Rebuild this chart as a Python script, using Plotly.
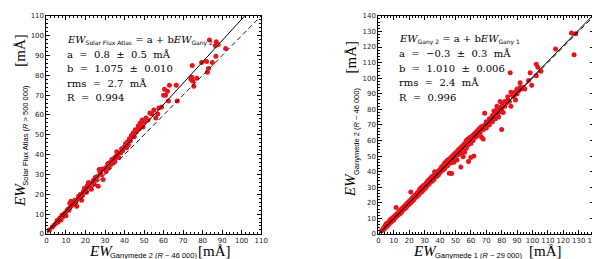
import plotly.graph_objects as go

# ---------------- data ----------------
left_x = [1.5,3,4,5,5.5,6,6.5,7,7.5,8,8.5,9,9.5,10,10.5,11,11.5,12,12,12.5,13,13.5,14,14.5,15,15.5,16,16.5,17,17.5,18,18.5,19,19.5,20,20.5,21,21.5,22,22.5,23,24,24.5,25,25.5,26,26.5,27,27.5,28,28.5,29,30,30.5,31,31.5,32,32.5,33,33.5,34,34.5,35,35.5,36,36.5,37,38,38.5,39,40,40.5,41,41.5,42,42.5,43,43.5,44,44.5,45,45.5,46,47,47.5,48,48.5,49,49.5,50,51,52,53,54,55,56,57,57.5,59,60,61,60.5,62,63,62.5,66.5,67,74,74.5,75,75.5,74.7,77,79.5,82,83,82.5,85,83.5,86.5,87,86.8,91.8,88]
left_y = [2.0,3.5,4.5,5.5,6.8,6,7.5,8.2,7,9.5,8.8,9.8,10.5,9.2,11.8,12.5,12,13.2,15.5,16.5,14.5,16,15.2,17,15.8,14,17.5,19,18.2,20,17,19.5,21.5,23,22,21,24.5,26,23.5,25.5,22.5,27,25,28.5,27.5,29,24,32.5,31,30,32.8,27.5,33,31.5,34,35.5,33.5,36,35,37.5,36,38,37,39,41.5,40.5,38.5,41,43,42,44,45.5,43.5,46.5,45,48,47,49.5,50,51,49,52.5,51.5,54.5,53,56,55,57.5,54,56.5,58.5,57.5,61,60.5,62.5,58.5,60.5,63.5,64,70,70,73,72,75,67,75,67,78,79,77,74.5,85,78.5,86.5,87,83.5,81.5,86.5,97.8,95,97,89.6,93.5,95.5]
left_a, left_b = 0.8, 1.075

right_pts = [(2,2),(3,2.5),(3.5,4),(4,3.5),(4.5,5.5),(5,4.5),(5,6.5),(5.5,5),(6,7),(6,5.5),(6.5,6),(7,8),(7,6.5),(7.5,9),(8,7.5),(8,9.5),(8.5,8),(9,10),(9,8.5),(9.5,9.5),(10,11),(10,9),(10.5,10),(11,12),(11,10.5),(11.5,17),(12,11.5),(12,13),(12.5,12),(13,14),(13,12.5),(13.5,13.5),(14,15),(14,13),(14.5,14.5),(15,16),(15,14),(15.5,15),(16,17),(16,15.5),(16.5,16.5),(17,18),(17,16),(17.5,17.5),(18,19),(18,17),(18.5,18),(19,20),(19,18.5),(19.5,19.5),(20,21),(20,19),(20.5,20.5),(21,27),(21,22),(21,20),(21.5,21.5),(22,23),(22,21),(22.5,22.5),(23,24),(23,22),(23.5,23),(24,25),(24,23.5),(24.5,24.5),(25,26),(25,24),(25.5,26.5),(26,27),(26,25),(26.5,28),(27,26.5),(27,29),(27.5,28),(28,30),(28,27),(28.5,29),(29,31),(29,28),(29.5,30),(30,31.5),(30,29),(30.5,30.5),(31,32.5),(31,30),(31.5,33),(32,31.5),(32,34),(32.5,33),(33,35),(33,32),(33.5,34),(34,36),(34,33.5),(34.5,35),(35,37),(35,34),(35.5,36),(36,37.5),(36,35),(36.5,40),(37,38),(37,36.5),(37.5,37.5),(38,39.5),(38,37),(38.5,38.5),(39,40.5),(39,38),(40,41),(40,39.5),(40.5,42),(41,40.5),(41,43),(41.5,42),(42,44),(42,41),(42.5,43),(43,45.5),(43,42),(43.5,44),(44,46.5),(44,43.5),(44.5,45),(45,47.5),(45,44),(45.5,46),(46,48),(46,39),(46.5,47),(47,49),(47,45.5),(47.5,38.8),(48,47),(48,50),(48.5,48),(49,46),(49,51),(49.5,49),(50,52),(50,48),(50.5,50.5),(51,53),(51,47.5),(52,51),(52,54),(52.5,52),(53,55),(53.5,43),(54,52),(54,56),(55,49.5),(55,57),(55.5,54),(56,58),(56,52.5),(57,55),(57,60),(58,57),(58,61),(58.5,46.5),(59,59),(59.5,62),(60,49),(60,58),(60.5,61),(61,63),(61.5,60),(62,64),(62,50),(63,62),(63,65),(64,66),(64,63),(65,67),(65,64),(66,68),(66,65),(67,62),(67,69),(68,61),(68,67),(69,70),(69,77.5),(70,68),(70,72),(71,71),(72,74),(72,70),(73,73),(74,76),(74,72),(75,75),(75,79),(76,77),(76,74),(77,80),(77,82),(78,78),(78,75),(79,81),(79,85),(80,80),(80,67),(80.5,83),(81,78),(82,85),(82,82),(83,84),(84,86),(84,88),(85,85),(85.5,103.5),(86,82),(86,91),(87,89),(88,88),(88.5,91),(89,86),(90,90),(90,93),(91,92),(92,94),(92,97),(93,93),(94,94),(95,93),(97.5,98.5),(98.5,103.5),(99.5,95.5),(102.5,109),(103.5,107),(102.5,101.5),(105.5,104.5),(115,118.7),(125.3,129),(128,128.5),(127,115)]
right_x = [p[0] for p in right_pts]
right_y = [p[1] for p in right_pts]
right_a, right_b = -0.3, 1.010

left_range = [0, 110]
right_range = [0, 140]
left_ticks = list(range(0, 111, 10))
right_ticks = list(range(0, 141, 10))

# ---------------- figure ----------------
RED = "#e8141c"
fig = go.Figure()

def add_panel(xs, ys, a, b, rng, xa, ya):
    fig.add_trace(go.Scatter(x=xs, y=ys, mode="markers", xaxis=xa, yaxis=ya,
                             marker=dict(color=RED, size=5, line=dict(width=0)),
                             showlegend=False, hoverinfo="skip"))
    # 1:1 dashed line
    fig.add_trace(go.Scatter(x=[rng[0], rng[1]], y=[rng[0], rng[1]], mode="lines",
                             xaxis=xa, yaxis=ya, line=dict(color="black", width=0.9, dash="5px,3px"),
                             showlegend=False, hoverinfo="skip"))
    # fit line
    x_end = (rng[1] - a) / b
    fig.add_trace(go.Scatter(x=[rng[0], x_end], y=[a + b * rng[0], rng[1]], mode="lines",
                             xaxis=xa, yaxis=ya, line=dict(color="black", width=1),
                             showlegend=False, hoverinfo="skip"))

add_panel(left_x, left_y, left_a, left_b, left_range, "x", "y")
add_panel(right_x, right_y, right_a, right_b, right_range, "x2", "y2")

ydom = [1 - 229 / 259, 1 - 4 / 259]
axis_common = dict(showline=True, linecolor="black", linewidth=1, mirror="allticks",
                   ticks="inside", ticklen=4, tickwidth=0.8, tickcolor="black",
                   showgrid=False, zeroline=False,
                   tickfont=dict(family="DejaVu Sans", size=7, color="#222"),
                   minor=dict(ticks="inside", ticklen=2, tickcolor="black", dtick=2, showgrid=False))

fig.update_layout(
    width=600, height=259, margin=dict(l=0, r=0, t=0, b=0),
    paper_bgcolor="white", plot_bgcolor="white",
    xaxis=dict(domain=[37 / 600, 255 / 600], range=left_range, tickvals=left_ticks, anchor="y", **axis_common),
    yaxis=dict(domain=ydom, range=left_range, tickvals=left_ticks, anchor="x", **axis_common),
    xaxis2=dict(domain=[374 / 600, 593 / 600], range=right_range, tickvals=right_ticks, anchor="y2", **axis_common),
    yaxis2=dict(domain=ydom, range=right_range, tickvals=right_ticks, anchor="x2", **axis_common),
)

SERIF = "DejaVu Serif"
SANS = "DejaVu Sans"
LSANS = "Liberation Sans"
LSERIF = "Liberation Serif"

def sub(t):
    return f"<sub><span style='font-family:{SANS};font-size:6px'>{t}</span></sub>"

ann = []
def txt(xp, yp, s, size=10, angle=0, xanchor="left", yanchor="middle", family=SERIF, pad=1):
    ann.append(dict(x=xp / 600, y=1 - yp / 259, xref="paper", yref="paper", text=s, showarrow=False,
                    xanchor=xanchor, yanchor=yanchor, textangle=angle, borderpad=pad,
                    font=dict(family=family, size=size, color="black")))

# left panel text block
lines_left = [
    "<i>EW</i>" + sub("Solar Flux Atlas") + " = a + b<i>EW</i>" + sub("Gany 2"),
    "a  =  0.8  ±  0.5  mÅ",
    "b  =  1.075  ±  0.010",
    "rms  =  2.7  mÅ",
    "R  =  0.994",
]
for i, s in enumerate(lines_left):
    txt(56, 29 + 14.8 * i, s)

lines_right = [
    "<i>EW</i>" + sub("Gany 2") + " = a + b<i>EW</i>" + sub("Gany 1"),
    "a  =  −0.3  ±  0.3  mÅ",
    "b  =  1.010  ±  0.006",
    "rms  =  2.4  mÅ",
    "R  =  0.996",
]
for i, s in enumerate(lines_right):
    txt(393, 28 + 15 * i, s)

# axis titles, built from pieces
def xtitle(ew_x, sub_x, unit_x, label):
    txt(ew_x, 246.5, "<i>EW</i>", size=15, xanchor="center", family=LSERIF, pad=0)
    txt(sub_x, 251, label, size=7.5, xanchor="left", family=LSANS, pad=0)
    txt(unit_x, 246.5, "[mÅ]", size=15, xanchor="center", family=LSERIF, pad=0)

def ytitle(ew_x, ew_y, sub_x, sub_bottom, unit_y, label):
    txt(ew_x, ew_y, "<i>EW</i>", size=15, angle=-90, xanchor="center", family=LSERIF, pad=0)
    txt(sub_x, sub_bottom, label, size=7.5, angle=-90, xanchor="center", yanchor="bottom", family=LSANS, pad=0)
    txt(ew_x, unit_y, "[mÅ]", size=15, angle=-90, xanchor="center", family=LSERIF, pad=0)

xtitle(92, 101, 208, "Ganymede 2 (<i>R</i> ~ 46 000)")
xtitle(421, 430, 544, "Ganymede 1 (<i>R</i> ~ 29 000)")
ytitle(10, 189, 16, 180, 39, "Solar Flux Atlas (<i>R</i> > 500 000)")
ytitle(346, 179, 352, 169, 46, "Ganymede 2 (<i>R</i> ~ 46 000)")

fig.update_layout(annotations=ann)
fig.write_html("out.html")
